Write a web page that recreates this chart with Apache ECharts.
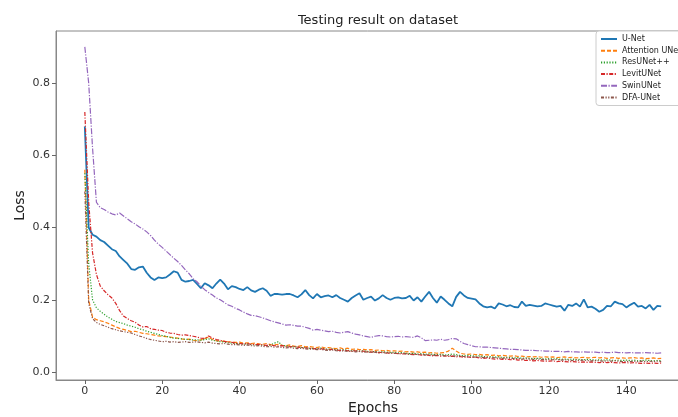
<!DOCTYPE html>
<html>
<head>
<meta charset="utf-8">
<script src="https://cdn.jsdelivr.net/npm/echarts@6/dist/echarts.min.js"></script>
<style>
html,body{margin:0;padding:0;background:#fff;}
#c{width:678px;height:417px;}
</style>
</head>
<body>
<div id="c"></div>
<script>
const titleText = 'Testing result on dataset';
const xName = 'Epochs';
const yName = 'Loss';
const seriesNames = ['U-Net', 'Attention UNet', 'ResUNet++', 'LevitUNet', 'SwinUNet', 'DFA-UNet'];
const xTicks = [0, 20, 40, 60, 80, 100, 120, 140];
const yTicks = [0.0, 0.2, 0.4, 0.6, 0.8];

const uNet = [
0.68,0.40,0.38,0.375,0.365,0.36,0.35,0.34,0.335,0.32,
0.31,0.30,0.285,0.283,0.29,0.292,0.275,0.262,0.255,0.262,
0.26,0.262,0.27,0.279,0.275,0.255,0.25,0.252,0.255,0.244,
0.232,0.246,0.24,0.232,0.245,0.256,0.245,0.229,0.238,0.235,
0.23,0.227,0.235,0.226,0.222,0.228,0.232,0.225,0.211,0.216,
0.216,0.214,0.216,0.216,0.212,0.207,0.215,0.227,0.213,0.204,
0.216,0.207,0.21,0.212,0.207,0.213,0.205,0.2,0.195,0.205,
0.212,0.218,0.2,0.205,0.209,0.198,0.204,0.213,0.205,0.2,
0.205,0.207,0.204,0.205,0.211,0.198,0.207,0.195,0.209,0.222,
0.205,0.192,0.209,0.2,0.19,0.182,0.208,0.222,0.212,0.205,
0.203,0.201,0.19,0.182,0.179,0.181,0.176,0.19,0.187,0.182,
0.185,0.18,0.179,0.195,0.183,0.186,0.184,0.182,0.183,0.19,
0.187,0.184,0.181,0.183,0.17,0.186,0.183,0.19,0.181,0.201,
0.179,0.181,0.175,0.167,0.172,0.183,0.182,0.195,0.19,0.188,
0.179,0.186,0.192,0.181,0.183,0.176,0.186,0.172,0.183,0.182
];
const attentionUNet = [
0.56,0.20,0.152,0.145,0.142,0.139,0.135,0.13,0.125,0.121,
0.118,0.115,0.112,0.113,0.11,0.107,0.106,0.104,0.102,0.1,
0.099,0.098,0.097,0.095,0.094,0.092,0.09,0.091,0.088,0.087,
0.089,0.092,0.097,0.09,0.087,0.085,0.086,0.084,0.083,0.082,
0.083,0.08,0.081,0.079,0.08,0.078,0.077,0.079,0.076,0.075,
0.077,0.074,0.073,0.075,0.072,0.071,0.073,0.07,0.071,0.069,
0.068,0.07,0.067,0.068,0.066,0.065,0.067,0.064,0.066,0.063,
0.064,0.062,0.063,0.061,0.062,0.06,0.061,0.059,0.06,0.058,
0.059,0.057,0.058,0.056,0.057,0.055,0.056,0.054,0.055,0.053,
0.054,0.052,0.053,0.054,0.058,0.066,0.058,0.052,0.05,0.049,
0.05,0.048,0.049,0.047,0.048,0.046,0.047,0.045,0.046,0.045,
0.044,0.045,0.043,0.044,0.042,0.043,0.042,0.043,0.041,0.042,
0.041,0.042,0.04,0.041,0.042,0.04,0.041,0.039,0.04,0.041,
0.039,0.04,0.041,0.039,0.04,0.038,0.039,0.04,0.038,0.039,
0.038,0.039,0.04,0.038,0.039,0.037,0.038,0.039,0.037,0.038
];
const resUNetPP = [
0.55,0.30,0.20,0.178,0.168,0.16,0.152,0.146,0.14,0.137,
0.134,0.13,0.127,0.124,0.12,0.117,0.113,0.11,0.107,0.104,
0.101,0.099,0.096,0.094,0.093,0.092,0.091,0.09,0.089,0.089,
0.088,0.09,0.092,0.088,0.086,0.084,0.083,0.081,0.08,0.079,
0.078,0.077,0.078,0.076,0.075,0.076,0.074,0.073,0.075,0.08,
0.084,0.074,0.072,0.071,0.07,0.069,0.068,0.068,0.066,0.065,
0.065,0.066,0.064,0.063,0.064,0.062,0.061,0.062,0.06,0.059,
0.06,0.058,0.059,0.057,0.056,0.057,0.055,0.056,0.055,0.054,
0.055,0.053,0.054,0.052,0.051,0.052,0.05,0.051,0.049,0.05,
0.049,0.048,0.049,0.047,0.048,0.05,0.048,0.046,0.045,0.046,
0.045,0.044,0.045,0.043,0.042,0.043,0.041,0.042,0.04,0.041,
0.04,0.039,0.04,0.038,0.039,0.038,0.037,0.038,0.037,0.036,
0.037,0.036,0.037,0.035,0.036,0.035,0.036,0.034,0.035,0.034,
0.035,0.034,0.033,0.034,0.033,0.034,0.033,0.032,0.033,0.032,
0.033,0.032,0.033,0.031,0.032,0.033,0.032,0.031,0.032,0.032
];
const levitUNet = [
0.72,0.47,0.33,0.27,0.238,0.225,0.214,0.205,0.19,0.17,
0.155,0.148,0.142,0.138,0.13,0.125,0.126,0.12,0.118,0.116,
0.115,0.11,0.108,0.107,0.104,0.102,0.103,0.101,0.099,0.097,
0.094,0.093,0.1,0.094,0.09,0.088,0.085,0.083,0.082,0.08,
0.079,0.078,0.079,0.077,0.076,0.077,0.075,0.074,0.075,0.073,
0.072,0.073,0.071,0.07,0.071,0.069,0.068,0.067,0.066,0.065,
0.064,0.065,0.063,0.062,0.063,0.061,0.06,0.061,0.059,0.058,
0.059,0.057,0.058,0.056,0.055,0.056,0.054,0.055,0.053,0.052,
0.052,0.051,0.05,0.051,0.049,0.048,0.049,0.047,0.048,0.046,
0.045,0.046,0.044,0.045,0.043,0.044,0.042,0.043,0.041,0.042,
0.04,0.041,0.039,0.038,0.039,0.037,0.036,0.037,0.035,0.036,
0.034,0.035,0.033,0.034,0.032,0.033,0.031,0.032,0.031,0.03,
0.03,0.031,0.029,0.03,0.029,0.028,0.029,0.028,0.027,0.028,
0.027,0.028,0.027,0.026,0.027,0.026,0.027,0.026,0.025,0.026,
0.026,0.025,0.026,0.025,0.024,0.025,0.024,0.025,0.024,0.025
];
const swinUNet = [
0.90,0.80,0.62,0.47,0.455,0.45,0.443,0.438,0.435,0.44,
0.432,0.424,0.416,0.41,0.402,0.396,0.388,0.378,0.365,0.354,
0.345,0.335,0.325,0.315,0.306,0.295,0.283,0.272,0.258,0.25,
0.238,0.228,0.22,0.213,0.205,0.2,0.193,0.186,0.182,0.176,
0.172,0.166,0.161,0.157,0.156,0.153,0.15,0.146,0.142,0.139,
0.136,0.133,0.13,0.131,0.129,0.127,0.127,0.124,0.121,0.116,
0.118,0.116,0.114,0.112,0.113,0.11,0.108,0.11,0.112,0.108,
0.105,0.103,0.1,0.098,0.096,0.099,0.101,0.1,0.098,0.097,
0.098,0.099,0.097,0.098,0.097,0.096,0.1,0.095,0.087,0.088,
0.089,0.088,0.091,0.088,0.09,0.093,0.092,0.085,0.079,0.076,
0.073,0.07,0.07,0.069,0.069,0.068,0.067,0.066,0.065,0.064,
0.063,0.063,0.062,0.061,0.06,0.06,0.06,0.059,0.059,0.058,
0.058,0.057,0.057,0.057,0.056,0.057,0.056,0.056,0.055,0.056,
0.055,0.055,0.055,0.054,0.055,0.054,0.054,0.055,0.054,0.054,
0.053,0.054,0.053,0.053,0.053,0.054,0.053,0.053,0.052,0.053
];
const dfaUNet = [
0.50,0.19,0.148,0.137,0.132,0.128,0.124,0.12,0.117,0.114,
0.112,0.11,0.108,0.104,0.1,0.097,0.093,0.09,0.088,0.086,
0.084,0.085,0.083,0.084,0.082,0.083,0.084,0.082,0.083,0.084,
0.082,0.081,0.083,0.08,0.079,0.078,0.079,0.077,0.076,0.076,
0.075,0.074,0.075,0.073,0.072,0.073,0.071,0.07,0.071,0.069,
0.07,0.068,0.067,0.068,0.066,0.065,0.066,0.064,0.063,0.064,
0.062,0.063,0.061,0.06,0.061,0.059,0.058,0.059,0.057,0.058,
0.056,0.057,0.055,0.056,0.054,0.055,0.053,0.054,0.052,0.053,
0.052,0.051,0.052,0.05,0.049,0.05,0.048,0.049,0.047,0.048,
0.047,0.046,0.047,0.045,0.046,0.044,0.045,0.044,0.043,0.042,
0.042,0.041,0.042,0.04,0.041,0.039,0.04,0.039,0.038,0.039,
0.038,0.037,0.038,0.036,0.037,0.036,0.035,0.036,0.035,0.034,
0.035,0.034,0.035,0.033,0.034,0.033,0.032,0.033,0.032,0.033,
0.032,0.031,0.032,0.031,0.03,0.031,0.03,0.031,0.03,0.029,
0.03,0.029,0.03,0.029,0.03,0.029,0.03,0.029,0.03,0.029
];

const allData = [uNet, attentionUNet, resUNetPP, levitUNet, swinUNet, dfaUNet];
const colors = ['#1f77b4', '#ff7f0e', '#2ca02c', '#d62728', '#9467bd', '#8c564b'];
const widths = [1.8, 1.2, 1.2, 1.2, 1.2, 1.2];
const dashes = ['solid', [4, 2], [1.2, 1.6], [4, 1.5, 1.2, 1.5], [6, 1.5, 1.2, 1.5], [3, 1.5, 1.2, 1.5, 1.2, 1.5]];

const chart = echarts.init(document.getElementById('c'), null, {renderer: 'canvas'});
const font = 'DejaVu Sans';
chart.setOption({
  animation: false,
  backgroundColor: '#fff',
  title: {
    text: titleText, left: 373, top: 9, textAlign: 'center',
    textStyle: {fontFamily: font, fontSize: 13, fontWeight: 'normal', color: '#222'}
  },
  legend: {
    orient: 'vertical', left: 596, top: 31,
    itemWidth: 16, itemHeight: 8, itemGap: 3.7,
    padding: [4, 4, 4, 4],
    itemStyle: {opacity: 0},
    backgroundColor: '#fff', borderColor: '#ccc', borderWidth: 1, borderRadius: 3,
    textStyle: {fontFamily: font, fontSize: 8, color: '#222'},
    data: seriesNames
  },
  grid: {
    left: 56, top: 31, width: 634, height: 349,
    containLabel: false, outerBoundsMode: 'none',
    show: true, borderColor: '#888', borderWidth: 1, backgroundColor: 'transparent'
  },
  xAxis: {
    type: 'value', min: -7.45, max: 156.45,
    name: xName, nameLocation: 'middle', nameGap: 21, nameMoveOverlap: false,
    nameTextStyle: {fontFamily: font, fontSize: 14, color: '#222'},
    axisLine: {show: true, onZero: false, lineStyle: {color: '#888', width: 1}},
    axisTick: {show: true, length: 4, lineStyle: {color: '#666'}, customValues: xTicks},
    axisLabel: {fontFamily: font, fontSize: 11, color: '#333', margin: 6, customValues: xTicks},
    splitLine: {show: false}
  },
  yAxis: {
    type: 'value', min: -0.022, max: 0.944,
    name: yName, nameLocation: 'middle', nameGap: 29, nameMoveOverlap: false,
    nameTextStyle: {fontFamily: font, fontSize: 14, color: '#222'},
    axisLine: {show: true, onZero: false, lineStyle: {color: '#888', width: 1}},
    axisTick: {show: true, length: 4, lineStyle: {color: '#666'}, customValues: yTicks},
    axisLabel: {fontFamily: font, fontSize: 11, color: '#333', margin: 6, customValues: yTicks,
      formatter: v => v.toFixed(1)},
    splitLine: {show: false}
  },
  series: seriesNames.map((name, k) => ({
    name: name,
    type: 'line',
    symbol: 'none',
    showSymbol: false,
    clip: true,
    data: allData[k].map((v, i) => [i, v]),
    color: colors[k],
    lineStyle: {color: colors[k], width: widths[k], type: dashes[k]}
  }))
});
</script>
</body>
</html>
